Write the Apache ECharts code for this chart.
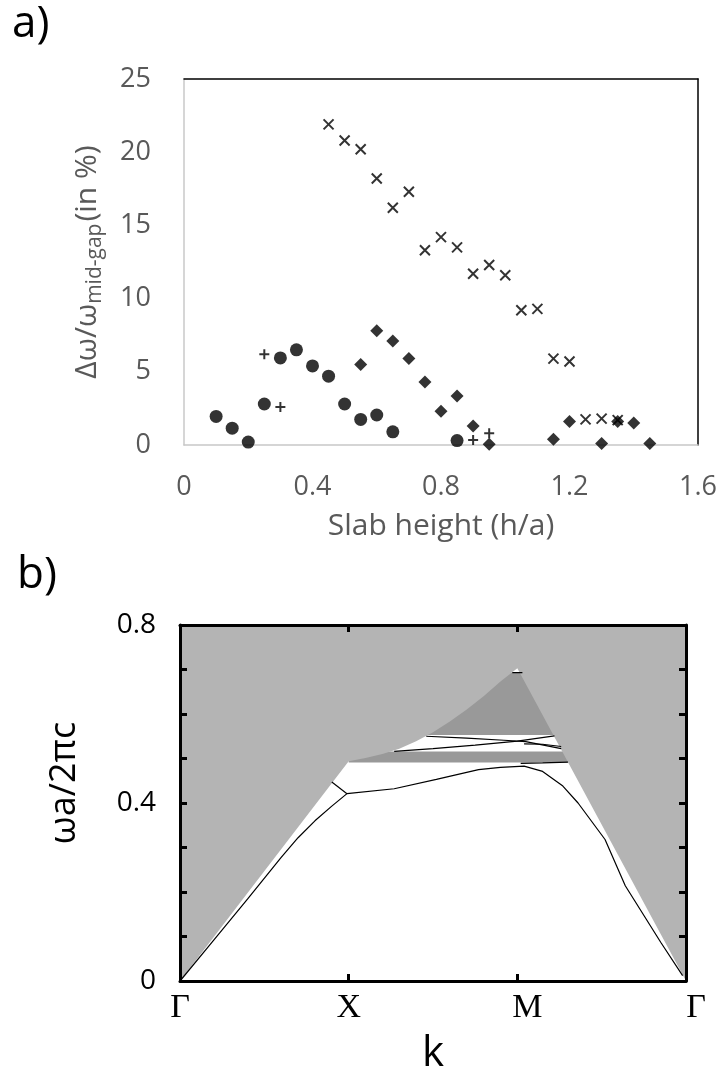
<!DOCTYPE html>
<html>
<head>
<meta charset="utf-8">
<script src="https://cdn.jsdelivr.net/npm/echarts@6/dist/echarts.min.js"></script>
<style>
html,body{margin:0;padding:0;background:#fff;}
#chart{width:722px;height:1076px;}
</style>
</head>
<body>
<div id="chart"></div>
<script>
// ---------- Panel a data (slab height h/a, gap width %) ----------
const crossH   = [0.45,0.5,0.55,0.6,0.65,0.7,0.75,0.8,0.85,0.9,0.95,1.0,1.05,1.1,1.15,1.2,1.25,1.3,1.35];
const crossGap = [21.9,20.8,20.2,18.2,16.2,17.3,13.3,14.2,13.5,11.7,12.3,11.6,9.2,9.3,5.9,5.7,1.75,1.8,1.7];
const diamondH   = [0.55,0.6,0.65,0.7,0.75,0.8,0.85,0.9,0.95,1.15,1.2,1.3,1.35,1.4,1.45];
const diamondGap = [5.5,7.8,7.1,5.9,4.3,2.3,3.35,1.3,0.05,0.4,1.6,0.1,1.6,1.5,0.1];
const circleH   = [0.1,0.15,0.2,0.25,0.3,0.35,0.4,0.45,0.5,0.55,0.6,0.65,0.85];
const circleGap = [1.95,1.15,0.2,2.8,5.95,6.5,5.4,4.7,2.8,1.75,2.05,0.9,0.3];
const plusH   = [0.25,0.3,0.9,0.95];
const plusGap = [6.2,2.6,0.35,0.8];

// ---------- Panel b data (k path Γ=0, X=1, M=2, Γ=3; ωa/2πc) ----------
const kTickLabels = ['Γ','X','M','Γ'];
const lightLineK = [0,1,1.1,1.2,1.3,1.4,1.5,1.6,1.7,1.8,1.9,2,3];
const lightLineW = [0,0.494,0.501,0.51,0.522,0.539,0.559,0.583,0.61,0.64,0.673,0.703,0];
// darker-gray bands below light line: [kFrom, wLow, kTo, wHigh]
const darkBands = [[1,0.553,3,0.693],[1,0.491,3,0.516]];
// guided-mode bands
const band1K = [0,0.2,0.4,0.6,0.7,0.8,0.9,0.99,1.27,1.52,1.77,1.9,2.04,2.15,2.27,2.36,2.52,2.64,2.85,2.98];
const band1W = [0,0.092,0.184,0.278,0.322,0.36,0.393,0.421,0.432,0.453,0.475,0.480,0.483,0.471,0.438,0.400,0.318,0.214,0.087,0.012];
const band2K = [0.90,0.99];
const band2W = [0.447,0.421];
const band3K = [1.46,1.70,1.92,2.05,2.26];
const band3W = [0.550,0.546,0.541,0.538,0.522];
const band4K = [1.27,1.5,1.75,2.0,2.22];
const band4W = [0.516,0.522,0.530,0.539,0.551];
const band5K = [2.04,2.15,2.26];
const band5W = [0.533,0.532,0.527];
const band6K = [2.02,2.15,2.30];
const band6W = [0.489,0.490,0.492];
const band7K = [1.97,2.03];
const band7W = [0.693,0.693];

const zip = (a,b) => a.map((v,i)=>[v,b[i]]);
const GRAY = '#595959';
const SANS = 'Open Sans';

function polySeries(points, color, z){
  return {
    type:'custom', xAxisIndex:2, yAxisIndex:2, z:z, silent:true,
    data:[0],
    renderItem:(params, api)=>({
      type:'polygon',
      shape:{points: points.map(p=>api.coord(p))},
      style:{fill:color}
    })
  };
}
function bandLine(k,w){
  return {type:'line', xAxisIndex:2, yAxisIndex:2, data:zip(k,w), showSymbol:false, z:5,
    lineStyle:{color:'#000', width:1.2}, silent:true, animation:false};
}

const lightPoly = zip(lightLineK, lightLineW).concat([[3,0.8],[0,0.8]]);
const darkPolys = darkBands.map(b=>[[b[0],b[1]],[b[2],b[1]],[b[2],b[3]],[b[0],b[3]]]);

const kRich = {
  g:{fontSize:34, fontFamily:'Liberation Serif', color:'#000'},
  m:{fontSize:34, fontFamily:'Liberation Serif', color:'#000', padding:[0,0,0,20]},
  e:{fontSize:34, fontFamily:'Liberation Serif', color:'#000', padding:[0,0,0,20]}
};
const kStyleKey = ['g','g','m','e'];

const chart = echarts.init(document.getElementById('chart'), null, {renderer:'canvas'});
chart.setOption({
  animation:false,
  backgroundColor:'#fff',
  graphic:[
    {type:'text', left:12, top:2, style:{text:'a)', fontSize:44, fontFamily:SANS, fill:'#000'}},
    {type:'text', left:17, top:553, style:{text:'b)', fontSize:44, fontFamily:SANS, fill:'#000'}}
  ],
  grid:[
    {left:184, right:24, top:79, height:366},
    {left:180, right:36, top:625, height:357, show:true, backgroundColor:'#fff', borderWidth:0}
  ],
  xAxis:[
    {gridIndex:0, type:'value', min:0, max:1.6, interval:0.4,
     axisLine:{onZero:false, lineStyle:{color:'#c8c8c8', width:1.5}}, axisTick:{show:false}, splitLine:{show:false},
     axisLabel:{color:GRAY, fontSize:27, fontFamily:SANS, margin:29},
     name:'Slab height (h/a)', nameLocation:'middle', nameGap:66,
     nameTextStyle:{color:GRAY, fontSize:30, fontFamily:SANS}},
    {gridIndex:0, type:'value', position:'top', min:0, max:1.6, interval:0.4,
     axisLine:{onZero:false, lineStyle:{color:'#000', width:1.5}}, axisTick:{show:false}, axisLabel:{show:false}, splitLine:{show:false}},
    {gridIndex:1, type:'value', min:0, max:3, interval:1, z:10,
     axisLine:{onZero:false, lineStyle:{color:'#000', width:3}},
     axisTick:{inside:true, length:7, lineStyle:{color:'#000', width:3}},
     splitLine:{show:false},
     axisLabel:{formatter:v=>{const i=Math.round(v); return '{'+kStyleKey[i]+'|'+kTickLabels[i]+'}';},
       rich:kRich, color:'#000', fontSize:34, fontFamily:'Liberation Serif', margin:10},
     name:'k', nameLocation:'middle', nameGap:52,
     nameTextStyle:{color:'#000', fontSize:42, fontFamily:SANS}},
    {gridIndex:1, type:'value', position:'top', min:0, max:3, interval:1, z:10,
     axisLine:{onZero:false, lineStyle:{color:'#000', width:3}},
     axisTick:{inside:true, length:7, lineStyle:{color:'#000', width:3}},
     axisLabel:{show:false}, splitLine:{show:false}}
  ],
  yAxis:[
    {gridIndex:0, type:'value', min:0, max:25, interval:5,
     axisLine:{show:true, onZero:false, lineStyle:{color:'#c8c8c8', width:1.5}}, axisTick:{show:false}, splitLine:{show:false},
     axisLabel:{color:GRAY, fontSize:27, fontFamily:SANS, margin:33},
     name:'{a|Δω/ω}{b|mid-gap}{a|(in %)}', nameLocation:'middle', nameGap:78,
     nameTextStyle:{color:GRAY, rich:{
       a:{fontSize:30, color:GRAY, fontFamily:SANS},
       b:{fontSize:21, color:GRAY, fontFamily:SANS, padding:[17,2,0,0]}
     }}},
    {gridIndex:0, type:'value', position:'right', min:0, max:25, interval:5,
     axisLine:{show:true, onZero:false, lineStyle:{color:'#000', width:1.5}}, axisTick:{show:false}, axisLabel:{show:false}, splitLine:{show:false}},
    {gridIndex:1, type:'value', min:0, max:0.8, interval:0.1, z:10,
     axisLine:{show:true, onZero:false, lineStyle:{color:'#000', width:3}},
     axisTick:{inside:true, length:7, lineStyle:{color:'#000', width:3}},
     splitLine:{show:false},
     axisLabel:{color:'#000', fontSize:28, fontFamily:SANS, margin:24,
       formatter:v=>{const r=Math.round(v*10); return r===0?'0':(r===4?'0.4':(r===8?'0.8':''));}},
     name:'ωa/2πc', nameLocation:'middle', nameGap:97,
     nameTextStyle:{color:'#000', fontSize:36, fontFamily:SANS, padding:[0,0,0,40]}},
    {gridIndex:1, type:'value', position:'right', min:0, max:0.8, interval:0.1, z:10,
     axisLine:{show:true, onZero:false, lineStyle:{color:'#000', width:3}},
     axisTick:{inside:true, length:7, lineStyle:{color:'#000', width:3}},
     axisLabel:{show:false}, splitLine:{show:false}}
  ],
  series:[
    {type:'scatter', xAxisIndex:0, yAxisIndex:0, data:zip(crossH,crossGap),
     symbol:'path://M0,0L10,10M10,0L0,10', symbolSize:10,
     itemStyle:{color:'none', borderColor:'#000', borderWidth:2}},
    {type:'scatter', xAxisIndex:0, yAxisIndex:0, data:zip(diamondH,diamondGap),
     symbol:'diamond', symbolSize:[13,13], itemStyle:{color:'#000'}},
    {type:'scatter', xAxisIndex:0, yAxisIndex:0, data:zip(circleH,circleGap),
     symbol:'circle', symbolSize:13, itemStyle:{color:'#000'}},
    {type:'scatter', xAxisIndex:0, yAxisIndex:0, data:zip(plusH,plusGap),
     symbol:'path://M5,0L5,10M0,5L10,5', symbolSize:10,
     itemStyle:{color:'none', borderColor:'#000', borderWidth:2}},
    polySeries(darkPolys[0], '#999999', 1),
    polySeries(darkPolys[1], '#999999', 1),
    polySeries(lightPoly, '#b4b4b4', 2),
    bandLine(band1K, band1W),
    bandLine(band2K, band2W),
    bandLine(band3K, band3W),
    bandLine(band4K, band4W),
    bandLine(band5K, band5W),
    bandLine(band6K, band6W),
    bandLine(band7K, band7W)
  ]
});
</script>
</body>
</html>
